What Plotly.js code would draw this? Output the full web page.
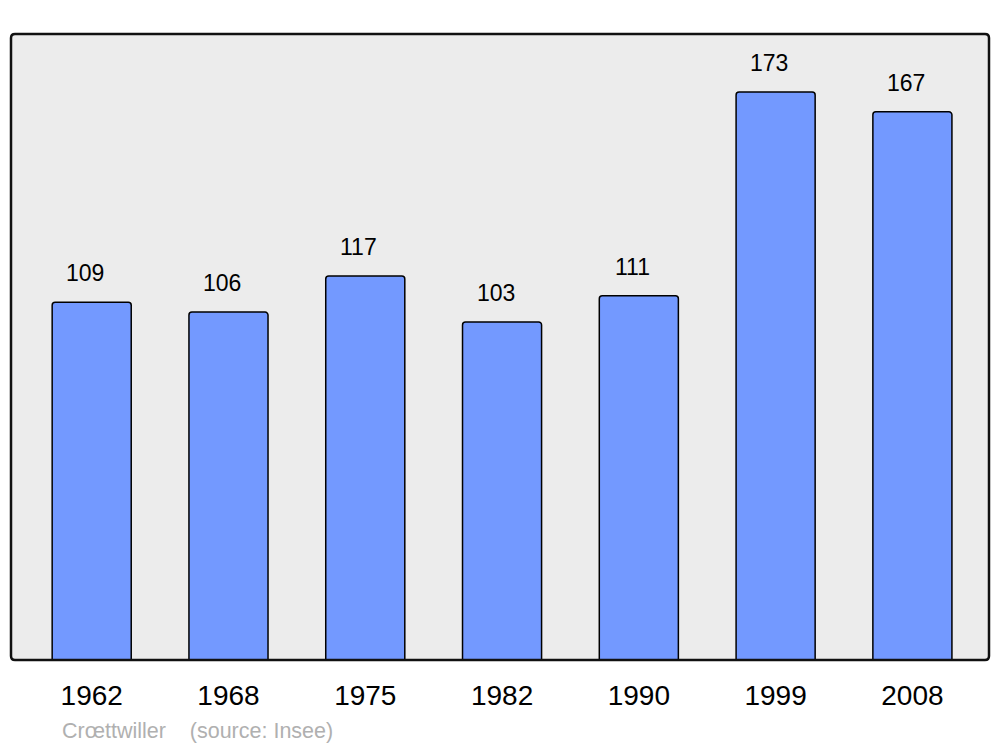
<!DOCTYPE html>
<html>
<head>
<meta charset="utf-8">
<script src="https://cdn.plot.ly/plotly-3.0.1.min.js"></script>
<style>html,body{margin:0;padding:0;background:#fff;}#chart{width:1000px;height:747px;}</style>
</head>
<body>
<div id="chart"></div>
<script>
const years = ["1962", "1968", "1975", "1982", "1990", "1999", "2008"];
const population = [109, 106, 117, 103, 111, 173, 167];
const commune = "Crœttwiller";
const source = "(source: Insee)";

const rx = 4 / 978, ry = 4 / 626;
const borderPath = `M ${rx} 0 L ${1 - rx} 0 Q 1 0 1 ${ry} L 1 ${1 - ry} Q 1 1 ${1 - rx} 1 L ${rx} 1 Q 0 1 0 ${1 - ry} L 0 ${ry} Q 0 0 ${rx} 0 Z`;

const annotations = years.map((y, i) => ({
  x: i, y: population[i], xref: 'x', yref: 'y',
  text: String(population[i]), showarrow: false,
  yanchor: 'bottom', yshift: 14, xshift: -6.5,
  font: {family: 'Liberation Sans, Arial, sans-serif', size: 23, color: '#000'}
}));
annotations.push({
  xref: 'paper', yref: 'paper', x: 49 / 978, y: -0.1134, xanchor: 'left', yanchor: 'middle',
  showarrow: false, text: commune + '\u00a0\u00a0\u00a0\u00a0' + source,
  font: {family: 'Liberation Sans, Arial, sans-serif', size: 21.5, color: '#b0b0b0'}
});

Plotly.newPlot('chart', [{
  type: 'bar', x: years, y: population, width: 0.578,
  marker: {color: '#7399ff', line: {color: '#000', width: 1.5}, cornerradius: 3},
  hoverinfo: 'none'
}], {
  width: 1000, height: 747,
  margin: {l: 11, r: 11, t: 34, b: 87},
  paper_bgcolor: '#fff', plot_bgcolor: '#ececec',
  showlegend: false,
  xaxis: {type: 'category', range: [-0.59, 6.56], showgrid: false, zeroline: false, showline: false,
    ticks: '', ticklabelstandoff: 16,
    tickfont: {family: 'Liberation Sans, Arial, sans-serif', size: 28, color: '#000'}},
  yaxis: {range: [0, 190.7], showgrid: false, zeroline: false, showline: false, showticklabels: false, ticks: ''},
  annotations: annotations,
  shapes: [{type: 'path', xref: 'paper', yref: 'paper', path: borderPath, line: {color: '#111', width: 2.5}, layer: 'above'}]
}, {staticPlot: true});
</script>
</body>
</html>
